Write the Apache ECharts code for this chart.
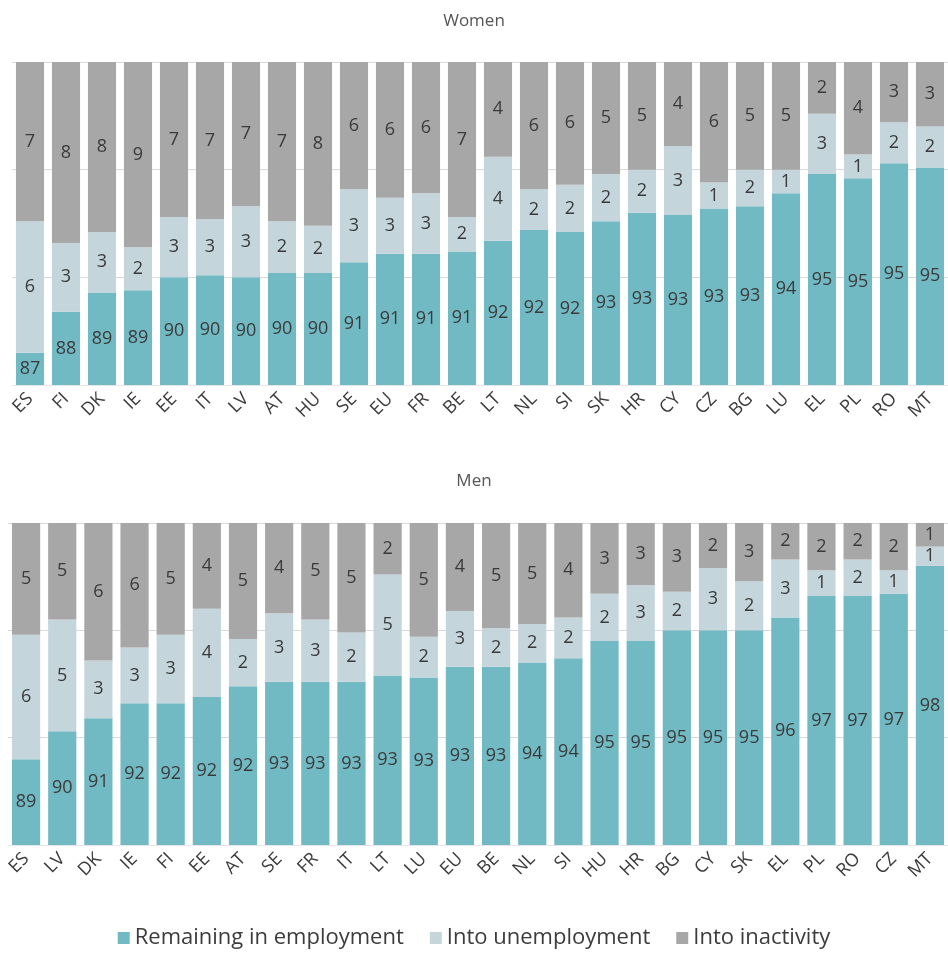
<!DOCTYPE html>
<html>
<head>
<meta charset="utf-8">
<script src="https://cdn.jsdelivr.net/npm/echarts@6/dist/echarts.min.js"></script>
<style>
html,body{margin:0;padding:0;background:#fff;}
#chart{width:948px;height:960px;}
</style>
</head>
<body>
<div id="chart"></div>
<script>
var seriesNames = ['Remaining in employment', 'Into unemployment', 'Into inactivity'];

var womenCategories = ['ES','FI','DK','IE','EE','IT','LV','AT','HU','SE','EU','FR','BE','LT','NL','SI','SK','HR','CY','CZ','BG','LU','EL','PL','RO','MT'];
var womenEmployment   = [86.5, 88.4, 89.3, 89.4, 90.0, 90.1, 90.0, 90.2, 90.2, 90.7, 91.1, 91.1, 91.2, 91.7, 92.2, 92.1, 92.6, 93.0, 92.9, 93.2, 93.3, 93.9, 94.8, 94.6, 95.3, 95.1];
var womenUnemployment = [6.1, 3.2, 2.8, 2.0, 2.8, 2.6, 3.3, 2.4, 2.2, 3.4, 2.6, 2.8, 1.6, 3.9, 1.9, 2.2, 2.2, 2.0, 3.2, 1.2, 1.7, 1.1, 2.8, 1.1, 1.9, 1.9];
var womenInactivity   = [7.4, 8.4, 7.9, 8.6, 7.2, 7.3, 6.7, 7.4, 7.6, 5.9, 6.3, 6.1, 7.2, 4.4, 5.9, 5.7, 5.2, 5.0, 3.9, 5.6, 5.0, 5.0, 2.4, 4.3, 2.8, 3.0];

var menCategories = ['ES','LV','DK','IE','FI','EE','AT','SE','FR','IT','LT','LU','EU','BE','NL','SI','HU','HR','BG','CY','SK','EL','PL','RO','CZ','MT'];
var menEmployment   = [89.0, 90.3, 90.9, 91.6, 91.6, 91.9, 92.4, 92.6, 92.6, 92.6, 92.9, 92.8, 93.3, 93.3, 93.5, 93.7, 94.5, 94.5, 95.0, 95.0, 95.0, 95.6, 96.6, 96.6, 96.7, 98.0];
var menUnemployment = [5.8, 5.2, 2.7, 2.6, 3.2, 4.1, 2.2, 3.2, 2.9, 2.3, 4.7, 1.9, 2.6, 1.8, 1.8, 1.9, 2.2, 2.6, 1.8, 2.9, 2.3, 2.7, 1.2, 1.7, 1.1, 0.9];
var menInactivity   = [5.2, 4.5, 6.4, 5.8, 5.2, 4.0, 5.4, 4.2, 4.5, 5.1, 2.4, 5.3, 4.1, 4.9, 4.7, 4.4, 3.3, 2.9, 3.2, 2.1, 2.7, 1.7, 2.2, 1.7, 2.2, 1.1];

var colors = ['#72BAC3', '#C4D5DB', '#A7A7A7'];
var fontFamily = '"Open Sans", "Noto Sans", sans-serif';

var chart = echarts.init(document.getElementById('chart'), null, {renderer: 'canvas'});

function xAxisFor(idx, cats) {
  return {
    type: 'category', gridIndex: idx, data: cats,
    axisTick: {show: false},
    axisLine: {show: true, lineStyle: {color: '#e6e6e6', width: 1}},
    axisLabel: {rotate: 45, fontSize: 18, color: '#3c3c3c', fontFamily: fontFamily, margin: 11, interval: 0}
  };
}
function yAxisFor(idx) {
  return {
    type: 'value', gridIndex: idx, min: 85, max: 100, interval: 5,
    axisLabel: {show: false}, axisTick: {show: false}, axisLine: {show: false},
    splitLine: {show: true, lineStyle: {color: '#dadada', width: 1}}
  };
}
function barSeries(name, data, idx, color) {
  return {
    name: name, type: 'bar', stack: 'g' + idx, xAxisIndex: idx, yAxisIndex: idx,
    data: data, barCategoryGap: '22%',
    itemStyle: {color: color},
    label: {
      show: true, position: 'inside', fontSize: 18, color: '#3a3a3a', fontFamily: fontFamily,
      formatter: function (p) { return Math.round(p.value); }
    },
    emphasis: {disabled: true}
  };
}

var option = {
  animation: false,
  textStyle: {fontFamily: fontFamily},
  title: [
    {text: 'Women', left: 'center', top: 8, textStyle: {fontSize: 17, fontWeight: 'normal', color: '#555', fontFamily: fontFamily}},
    {text: 'Men', left: 'center', top: 468, textStyle: {fontSize: 17, fontWeight: 'normal', color: '#555', fontFamily: fontFamily}}
  ],
  legend: {
    bottom: 6, left: 'center', itemWidth: 12, itemHeight: 12, itemGap: 26,
    icon: 'rect',
    textStyle: {fontSize: 22, color: '#3c3c3c', fontFamily: fontFamily},
    data: seriesNames
  },
  grid: [
    {left: 12, right: -10, top: 62, height: 323},
    {left: 8, right: -6, top: 523, height: 322}
  ],
  xAxis: [xAxisFor(0, womenCategories), xAxisFor(1, menCategories)],
  yAxis: [yAxisFor(0), yAxisFor(1)],
  series: [
    barSeries(seriesNames[0], womenEmployment, 0, colors[0]),
    barSeries(seriesNames[1], womenUnemployment, 0, colors[1]),
    barSeries(seriesNames[2], womenInactivity, 0, colors[2]),
    barSeries(seriesNames[0], menEmployment, 1, colors[0]),
    barSeries(seriesNames[1], menUnemployment, 1, colors[1]),
    barSeries(seriesNames[2], menInactivity, 1, colors[2])
  ]
};
chart.setOption(option);
</script>
</body>
</html>
